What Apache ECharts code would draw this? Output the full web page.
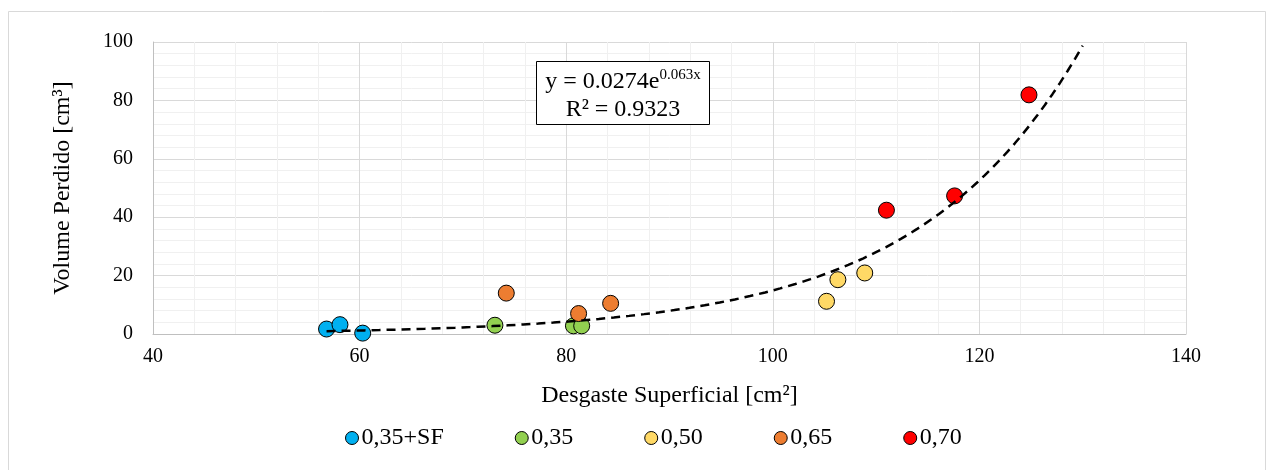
<!DOCTYPE html>
<html>
<head>
<meta charset="utf-8">
<script src="https://cdn.jsdelivr.net/npm/echarts@6/dist/echarts.min.js"></script>
<style>
html,body{margin:0;padding:0;background:#fff;}
#chart{width:1274px;height:470px;}
</style>
</head>
<body>
<div id="chart"></div>
<script>
// ---- data ----
const seriesNames = ['0,35+SF', '0,35', '0,50', '0,65', '0,70'];
const seriesColors = ['#00B0F0', '#92D050', '#FFD966', '#ED7D31', '#FF0000'];
const pts_035SF = [[56.8, 1.7], [58.1, 3.2], [60.3, 0.3]];
const pts_035 = [[73.1, 3.0], [80.7, 2.8], [81.5, 2.8]];
const pts_050 = [[105.2, 11.2], [106.3, 18.6], [108.9, 20.9]];
const pts_065 = [[74.2, 14.0], [81.2, 7.0], [84.3, 10.5]];
const pts_070 = [[111.0, 42.4], [117.6, 47.3], [124.8, 81.9]];
const allPts = [pts_035SF, pts_035, pts_050, pts_065, pts_070];
// trendline shown in chart: y = 0.0274 e^(0.063x), plotted from 56.8 to 130
const trendA = 0.0274, trendB = 0.063;
const trendXStart = 56.8, trendXEnd = 130;
const xTicks = [40, 60, 80, 100, 120, 140];
const yTicks = [0, 20, 40, 60, 80, 100];

const trend = [];
for (let i = 0; i <= 100; i++) {
  const x = trendXStart + (trendXEnd - trendXStart) * i / 100;
  trend.push([x, trendA * Math.exp(trendB * x)]);
}

const font = '"Liberation Serif", "Times New Roman", serif';
const chart = echarts.init(document.getElementById('chart'), null, {renderer: 'canvas'});

const series = seriesNames.map((n, i) => ({
  name: n, type: 'scatter', data: allPts[i], symbol: 'circle', symbolSize: 16,
  itemStyle: {color: seriesColors[i], borderColor: '#000', borderWidth: 1, opacity: 1},
  z: 3
}));
series.push({
  name: 'trend', type: 'line', data: trend, showSymbol: false, symbol: 'none',
  lineStyle: {color: '#000', width: 2.5, type: [9, 6]}, z: 5, silent: true
});

chart.setOption({
  animation: false,
  backgroundColor: '#fff',
  grid: {left: 153, right: 88, top: 42, bottom: 136},
  xAxis: {
    type: 'value', min: xTicks[0], max: xTicks[xTicks.length - 1], interval: 20,
    name: 'Desgaste Superficial [cm²]', nameLocation: 'middle', nameGap: 50,
    nameTextStyle: {fontFamily: font, fontSize: 24, color: '#000'},
    axisLine: {show: true, lineStyle: {color: '#bfbfbf', width: 1}},
    axisTick: {show: false},
    axisLabel: {fontFamily: font, fontSize: 20, color: '#000', margin: 13},
    splitLine: {show: true, lineStyle: {color: '#d9d9d9', width: 1}},
    minorTick: {show: false, splitNumber: 5},
    minorSplitLine: {show: true, lineStyle: {color: '#f0f0f0', width: 1}}
  },
  yAxis: {
    type: 'value', min: yTicks[0], max: yTicks[yTicks.length - 1], interval: 20,
    name: 'Volume Perdido [cm³]', nameLocation: 'middle', nameGap: 78, nameRotate: 90,
    nameTextStyle: {fontFamily: font, fontSize: 24, color: '#000'},
    axisLine: {show: true, lineStyle: {color: '#bfbfbf', width: 1}},
    axisTick: {show: false},
    axisLabel: {fontFamily: font, fontSize: 20, color: '#000', margin: 20},
    splitLine: {show: true, lineStyle: {color: '#d9d9d9', width: 1}},
    minorTick: {show: false, splitNumber: 5},
    minorSplitLine: {show: true, lineStyle: {color: '#f0f0f0', width: 1}}
  },
  legend: {
    data: seriesNames, top: 426, left: 345, padding: 0,
    itemWidth: 13, itemHeight: 13, itemGap: 71,
    textStyle: {fontFamily: font, fontSize: 24, lineHeight: 24, color: '#000', padding: [0, 0, 0, -2]},
    icon: 'circle',
    itemStyle: {borderColor: '#000', borderWidth: 1}
  },
  graphic: [
    {type: 'rect', shape: {x: 8.5, y: 11.5, width: 1257, height: 470}, style: {fill: 'none', stroke: '#d9d9d9', lineWidth: 1}, z: 0, silent: true},
    {type: 'rect', shape: {x: 536.5, y: 61.5, width: 173, height: 63}, style: {fill: '#fff', stroke: '#000', lineWidth: 1}, z: 10},
    {type: 'text', x: 623, y: 96, z: 11,
      style: {
        text: '{b|y = 0.0274e}{s|0.063x}\n{b|R² = 0.9323}',
        align: 'center', verticalAlign: 'middle', fill: '#000',
        rich: {
          b: {fontFamily: font, fontSize: 24, lineHeight: 28, fill: '#000'},
          s: {fontFamily: font, fontSize: 15, lineHeight: 28, fill: '#000', verticalAlign: 'top', padding: [0, 0, 8, 0]}
        }
      }
    }
  ],
  series: series
});
</script>
</body>
</html>
